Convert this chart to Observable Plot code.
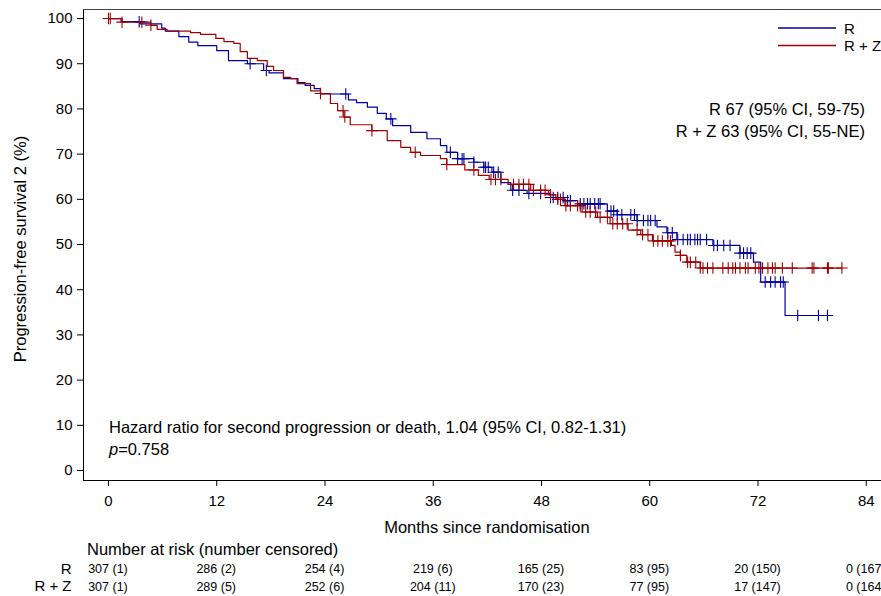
<!DOCTYPE html>
<html><head><meta charset="utf-8">
<script src="https://cdn.jsdelivr.net/npm/d3@7"></script>
<script src="https://cdn.jsdelivr.net/npm/@observablehq/plot@0.6"></script>
<style>
body{margin:0;background:#fff;font-family:"Liberation Sans",Arial,sans-serif;}
svg{display:block;}
</style></head><body><div id="chart"></div>
<script>
// ---------- data ----------
const groups = ["R", "R + Z"];
const colors = ["#0000a0", "#a00000"];

// R: step times (months) and survival (%)
const rTimes = [0, 1.4, 3.5, 5.9, 6.3, 7.8, 8.9, 9.9, 12.0, 13.3, 15.4, 17.2, 17.8, 19.4, 21.0, 21.8, 22.8, 23.5,
  26.6, 27.5, 28.7, 29.8, 30.8, 31.5, 33.5, 35.3, 36.8, 37.5, 38.7, 40.5, 41.6, 42.5, 43.5, 44.6, 46.4, 49.0,
  50.5, 52.0, 55.3, 56.4, 58.6, 60.8, 61.9, 63.0, 67.0, 70.0, 71.5, 72.3, 75.0];
const rSurv = [100, 99.3, 98.8, 97.9, 97.2, 96.0, 94.8, 94.0, 92.9, 90.7, 90.0, 88.5, 88.0, 86.7, 85.8, 85.2, 84.5, 83.3,
  82.0, 81.4, 80.4, 79.0, 77.8, 76.3, 74.8, 73.4, 71.9, 70.4, 69.0, 68.2, 67.1, 66.0, 63.7, 62.0, 61.3, 60.4,
  59.7, 59.0, 57.4, 56.6, 55.3, 53.9, 52.6, 51.1, 49.8, 48.1, 46.1, 41.7, 34.3];
const rEnd = 79.7;
const rCensor = [3.4, 15.7, 17.5, 26.3, 31.3, 37.9, 38.7, 39.2, 39.4, 40.5, 41.6, 41.8, 42.1, 42.7, 43.2, 44.8, 45.5, 46.6,
  47.9, 49.0, 49.3, 49.8, 50.4, 50.9, 51.2, 52.3, 52.7, 53.1, 53.4, 53.9, 54.3, 54.5, 55.7, 56.0, 56.4, 56.9,
  57.9, 58.3, 58.6, 59.3, 59.8, 60.1, 60.6, 62.0, 62.5, 63.1, 63.7, 64.2, 64.5, 65.0, 65.3, 65.6, 66.3, 67.1,
  67.5, 68.2, 68.9, 70.0, 70.4, 70.8, 71.2, 72.8, 73.4, 73.9, 74.5, 74.8, 76.4, 78.7, 79.7];

// R + Z
const rzTimes = [0, 1.5, 4.7, 5.4, 6.5, 9.1, 10.2, 11.9, 12.8, 13.9, 14.6, 15.4, 16.5, 17.6, 18.3, 19.4, 20.2, 20.9,
  22.4, 23.5, 24.6, 25.4, 26.1, 26.8, 29.2, 30.9, 32.4, 33.5, 34.6, 36.8, 37.5, 39.5, 41.0, 42.2, 44.3, 46.8,
  48.8, 49.6, 50.6, 52.5, 54.2, 55.6, 57.6, 59.0, 60.3, 62.4, 62.8, 63.4, 64.1, 65.6];
const rzSurv = [100, 99.2, 98.5, 97.6, 97.2, 96.9, 96.5, 95.6, 94.9, 94.5, 92.7, 91.2, 90.7, 89.4, 88.5, 87.0, 86.7, 85.6,
  84.0, 83.4, 81.2, 79.6, 78.2, 76.5, 75.2, 73.0, 71.5, 70.4, 69.7, 69.0, 67.7, 66.5, 65.3, 64.4, 63.3, 62.0,
  61.0, 60.0, 58.6, 57.2, 56.0, 54.6, 53.2, 52.2, 50.8, 49.8, 48.3, 47.6, 46.1, 44.8];
const rzEnd = 81.3;
const rzCensor = [0, 0.2, 1.5, 3.7, 4.7, 23.5, 26.0, 26.2, 29.2, 34.0, 37.5, 40.5, 42.4, 42.9, 43.5, 44.9, 45.5, 46.0,
  46.6, 47.1, 47.9, 48.4, 49.0, 49.8, 50.1, 50.7, 51.2, 52.0, 52.3, 52.9, 53.4, 54.0, 54.5, 55.3, 55.9, 56.4,
  57.0, 57.5, 58.6, 59.2, 59.8, 60.4, 60.9, 61.4, 62.0, 62.3, 63.4, 64.2, 64.5, 65.1, 65.6, 65.9, 66.4, 67.0,
  68.1, 68.7, 69.2, 69.5, 70.0, 70.6, 70.9, 71.7, 72.1, 72.5, 73.1, 73.6, 73.9, 74.7, 75.8, 78.0, 78.2, 79.7,
  79.8, 81.3];

const xTicks = [0, 12, 24, 36, 48, 60, 72, 84];
const yTicks = [0, 10, 20, 30, 40, 50, 60, 70, 80, 90, 100];
const riskTimes = [0, 12, 24, 36, 48, 60, 72, 84];
const rRisk = ["307 (1)", "286 (2)", "254 (4)", "219 (6)", "165 (25)", "83 (95)", "20 (150)", "0 (167)"];
const rzRisk = ["307 (1)", "289 (5)", "252 (6)", "204 (11)", "170 (23)", "77 (95)", "17 (147)", "0 (164)"];

const xLabel = "Months since randomisation";
const yLabel = "Progression-free survival 2 (%)";
const medianLines = ["R 67 (95% CI, 59-75)", "R + Z 63 (95% CI, 55-NE)"];
const hrText = "Hazard ratio for second progression or death, 1.04 (95% CI, 0.82-1.31)";
const pValue = "=0.758";
const riskHeader = "Number at risk (number censored)";

// ---------- build tables ----------
function stepRows(times, surv, end, g) {
  const rows = times.map((t, i) => ({t, s: surv[i], g}));
  rows.push({t: end, s: surv[surv.length - 1], g});
  return rows;
}
function survAt(times, surv, t) {
  const i = d3.bisectRight(times, t) - 1;
  return surv[Math.max(0, i)];
}
const curveData = [
  ...stepRows(rTimes, rSurv, rEnd, groups[0]),
  ...stepRows(rzTimes, rzSurv, rzEnd, groups[1])
];
const censorData = [
  ...rCensor.map(t => ({t, s: survAt(rTimes, rSurv, t), g: groups[0]})),
  ...rzCensor.map(t => ({t, s: survAt(rzTimes, rzSurv, t), g: groups[1]}))
];

const W = 881, H = 596;
const font = '"Liberation Sans", Arial, sans-serif';
const plot = Plot.plot({
  width: W, height: H,
  marginLeft: 83, marginRight: 0, marginTop: 9, marginBottom: 116,
  style: {fontFamily: font, fontSize: "15px", color: "#000", background: "#fff"},
  x: {domain: [-2.77, 85.69], ticks: xTicks, tickSize: 6, tickPadding: 9, label: null, line: true},
  y: {domain: [-2.21, 102], ticks: yTicks, tickSize: 6, tickPadding: 5, label: null, line: true},
  color: {domain: groups, range: colors},
  marks: [
    Plot.line(curveData, {x: "t", y: "s", z: "g", stroke: "g", curve: "step-after", strokeWidth: 1.2}),
    Plot.dot(censorData, {x: "t", y: "s", stroke: "g", symbol: "plus", r: 3.8, strokeWidth: 1.1})
  ]
});
document.getElementById("chart").appendChild(plot);

const xs = plot.scale("x"), ys = plot.scale("y");
const svg = d3.select(plot);
const X0 = 83, X1 = W, YT = 9;

// top border
svg.append("line").attr("x1", X0).attr("x2", X1).attr("y1", YT + 0.5).attr("y2", YT + 0.5)
  .style("stroke", "#444").style("stroke-width", 1);

const t = (x, y, s, opts = {}) => {
  return svg.append("text").attr("x", x).attr("y", y).text(s)
    .attr("font-family", font).attr("font-size", opts.size || 16.5).attr("fill", "#000")
    .attr("text-anchor", opts.anchor || "start");
};

// axis labels
t((xs.apply(0) + xs.apply(84)) / 2, 533, xLabel, {anchor: "middle"});
svg.append("text").attr("transform", `translate(26,${(ys.apply(0) + ys.apply(100)) / 2 + 5}) rotate(-90)`)
  .attr("text-anchor", "middle").attr("font-family", font).attr("font-size", 16.5).text(yLabel);

// legend
groups.forEach((g, i) => {
  const y = 28 + i * 17.5;
  svg.append("line").attr("x1", 778).attr("x2", 836).attr("y1", y).attr("y2", y)
    .style("stroke", colors[i]).style("stroke-width", 1.3);
  t(844, y + 5.5, g, {size: 15});
});

// medians
medianLines.forEach((s, i) => t(865, 115 + i * 22, s, {anchor: "end"}));

// hazard ratio
t(109, 432.5, hrText);
const pt = svg.append("text").attr("x", 109).attr("y", 455).attr("font-family", font)
  .attr("font-size", 16.5).attr("text-anchor", "start");
pt.append("tspan").attr("font-style", "italic").text("p");
pt.append("tspan").text(pValue);

// risk table
t(87, 554.5, riskHeader);
t(71.5, 573.5, groups[0], {size: 15, anchor: "end"});
t(71.5, 591, groups[1], {size: 15, anchor: "end"});
riskTimes.forEach((rt, i) => {
  t(xs.apply(rt), 573, rRisk[i], {size: 12.5, anchor: "middle"});
  t(xs.apply(rt), 590.5, rzRisk[i], {size: 12.5, anchor: "middle"});
});
</script>
</body></html>
